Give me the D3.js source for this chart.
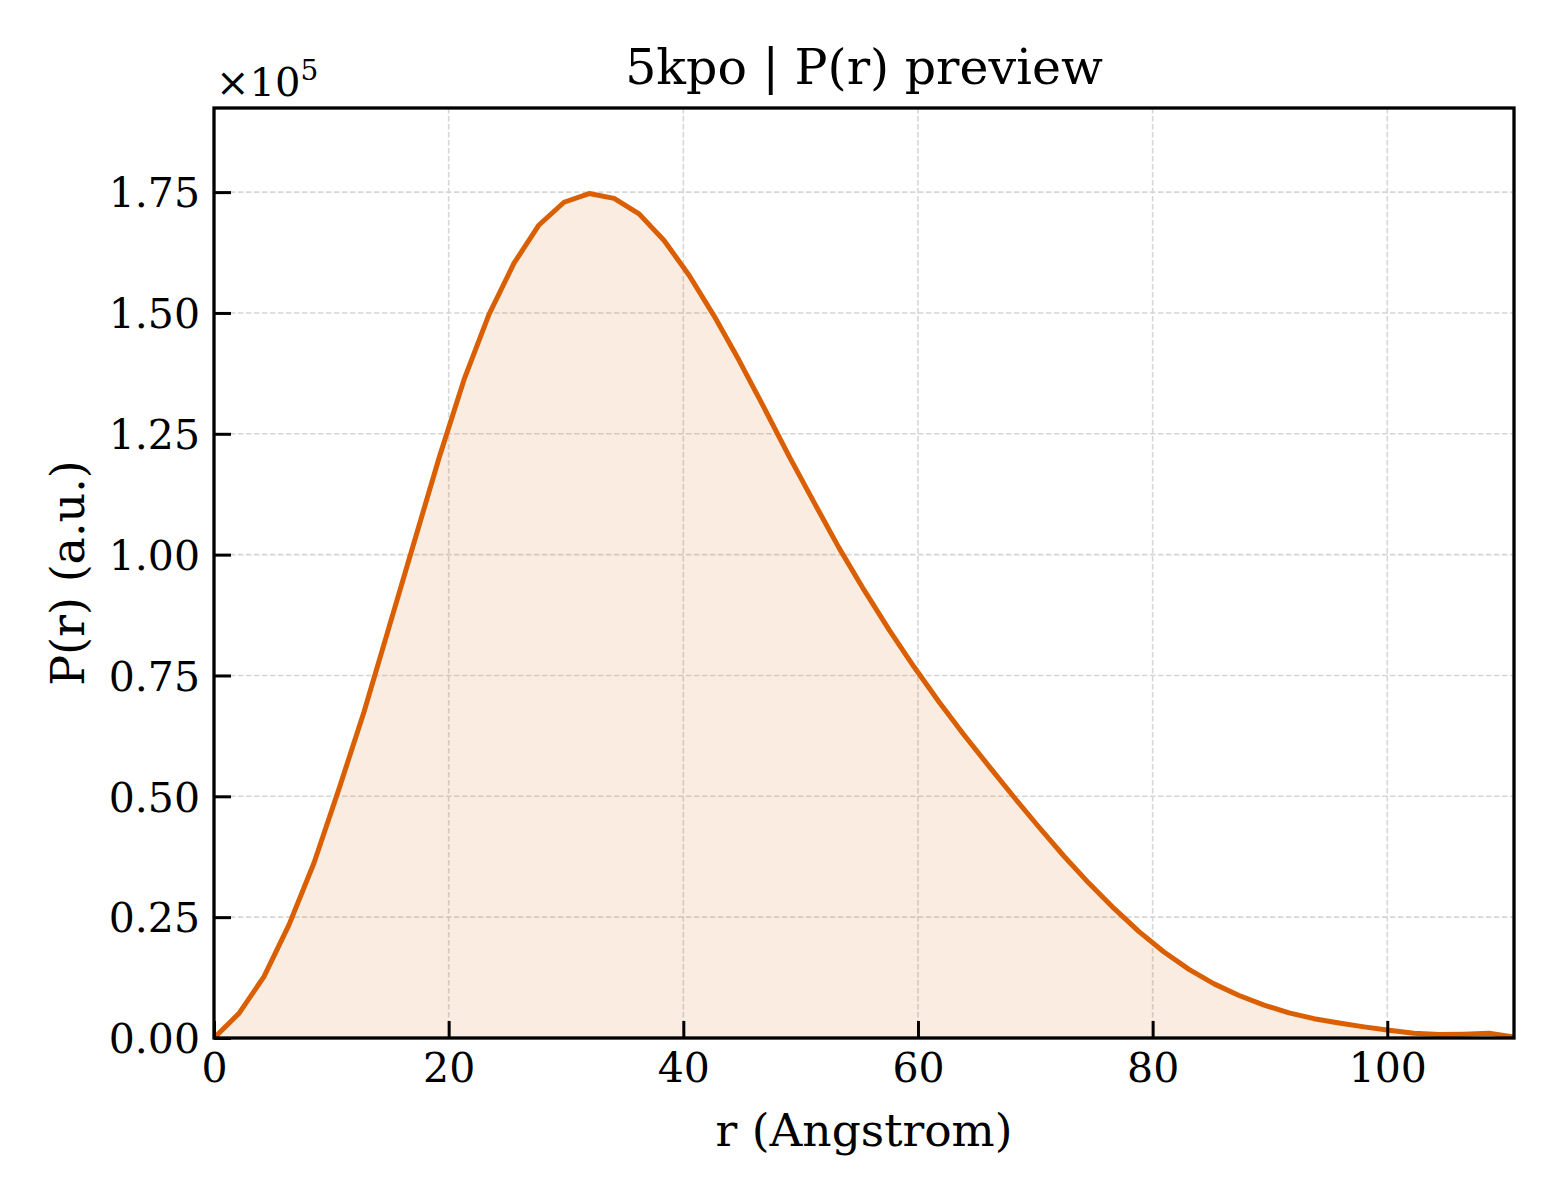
<!DOCTYPE html>
<html>
<head>
<meta charset="utf-8">
<script src="https://cdn.jsdelivr.net/npm/d3@7"></script>
<style>
  html, body { margin: 0; padding: 0; background: #fff; }
  svg { display: block; }
  text { font-family: "DejaVu Serif", "Liberation Serif", serif; fill: #000; }
</style>
</head>
<body>
<svg id="chart" width="1560" height="1200"></svg>
<script>
// ---- data ----
const title = "5kpo | P(r) preview";
const xLabel = "r (Angstrom)";
const yLabel = "P(r) (a.u.)";
const rValues = [
  0.00, 2.13, 4.26, 6.39, 8.52, 10.66, 12.79, 14.92, 17.05, 19.18,
  21.31, 23.44, 25.57, 27.70, 29.83, 31.97, 34.10, 36.23, 38.36, 40.49,
  42.62, 44.75, 46.88, 49.01, 51.14, 53.27, 55.40, 57.53, 59.66, 61.80,
  63.93, 66.06, 68.19, 70.32, 72.45, 74.58, 76.71, 78.84, 80.97, 83.10,
  85.24, 87.37, 89.50, 91.63, 93.76, 95.89, 98.02, 100.15, 102.28, 104.41,
  106.54, 108.67, 110.80
];
const prValues = [
  0, 5100, 12700, 23400, 36200, 51600, 67500, 85000, 102500, 120000,
  136200, 149700, 160300, 168200, 172900, 174700, 173700, 170500, 165000, 157800,
  149400, 140200, 130400, 120400, 110800, 101400, 92700, 84500, 76800, 69500,
  62700, 56200, 49800, 43600, 37600, 32000, 26800, 22000, 17800, 14200,
  11200, 8800, 6800, 5200, 4000, 3100, 2300, 1600, 1000, 700,
  800, 1000, 200
];
const xTicks = [0, 20, 40, 60, 80, 100];
const yTicks = [0, 25000, 50000, 75000, 100000, 125000, 150000, 175000];
const yExponent = 5;
const xDomain = [0, 110.8];
const yDomain = [0, 192400];

// ---- layout ----
const svg = d3.select("#chart");
const L = 214, R = 1514, T = 108, B = 1038;
const lineColor = "#d95f02";

const x = d3.scaleLinear().domain(xDomain).range([L, R]);
const y = d3.scaleLinear().domain(yDomain).range([B, T]);

const data = rValues.map((r, i) => ({ r, p: prValues[i] }));

// grid
const grid = svg.append("g");
grid.selectAll("line.gx").data(xTicks).join("line")
  .attr("x1", d => x(d)).attr("x2", d => x(d))
  .attr("y1", T).attr("y2", B)
  .attr("stroke", "#d6d6d6").attr("stroke-width", 1.6)
  .attr("stroke-dasharray", "5.5,2.5");
grid.selectAll("line.gy").data(yTicks).join("line")
  .attr("x1", L).attr("x2", R)
  .attr("y1", d => y(d)).attr("y2", d => y(d))
  .attr("stroke", "#d6d6d6").attr("stroke-width", 1.6)
  .attr("stroke-dasharray", "5.5,2.5");

// clip
svg.append("clipPath").attr("id", "clip")
  .append("rect").attr("x", L).attr("y", T).attr("width", R - L).attr("height", B - T);

// area
const area = d3.area().x(d => x(d.r)).y0(y(0)).y1(d => y(d.p));
svg.append("path").datum(data)
  .attr("d", area)
  .attr("fill", lineColor).attr("fill-opacity", 0.12)
  .attr("clip-path", "url(#clip)");

// line
const line = d3.line().x(d => x(d.r)).y(d => y(d.p));
svg.append("path").datum(data)
  .attr("d", line)
  .attr("fill", "none").attr("stroke", lineColor)
  .attr("stroke-width", 5).attr("stroke-linejoin", "round")
  .attr("clip-path", "url(#clip)");

// axes
const tickFont = 41;
const xAxis = svg.append("g").attr("transform", `translate(0,${B})`)
  .call(d3.axisBottom(x).tickValues(xTicks).tickSize(-17).tickPadding(34).tickFormat(d3.format("d")));
const yAxis = svg.append("g").attr("transform", `translate(${L},0)`)
  .call(d3.axisLeft(y).tickValues(yTicks).tickSize(-17).tickPadding(14)
    .tickFormat(d => (d / Math.pow(10, yExponent)).toFixed(2)));
[xAxis, yAxis].forEach(g => {
  g.select(".domain").remove();
  g.selectAll(".tick line").attr("stroke", "#000").attr("stroke-width", 3);
  g.selectAll(".tick text").attr("font-size", tickFont)
    .style("font-family", '"DejaVu Serif", serif');
});
xAxis.selectAll(".tick text").attr("dy", "0.71em").attr("y", 15);
yAxis.selectAll(".tick text").attr("dy", "0.36em");

// frame
svg.append("rect").attr("x", L).attr("y", T).attr("width", R - L).attr("height", B - T)
  .attr("fill", "none").attr("stroke", "#000").attr("stroke-width", 3.3);

// offset text
const off = svg.append("text").attr("x", 216).attr("y", 96).attr("font-size", 40);
off.append("tspan").text("×10");
off.append("tspan").attr("font-size", 28).attr("dy", -16).text(String(yExponent));

// title
svg.append("text").attr("x", (L + R) / 2).attr("y", 84)
  .attr("text-anchor", "middle").attr("font-size", 49).text(title);

// x label
svg.append("text").attr("x", (L + R) / 2).attr("y", 1146)
  .attr("text-anchor", "middle").attr("font-size", 45.5).text(xLabel);

// y label
svg.append("text").attr("transform", `translate(84,${(T + B) / 2}) rotate(-90)`)
  .attr("text-anchor", "middle").attr("font-size", 46).text(yLabel);
</script>
</body>
</html>
